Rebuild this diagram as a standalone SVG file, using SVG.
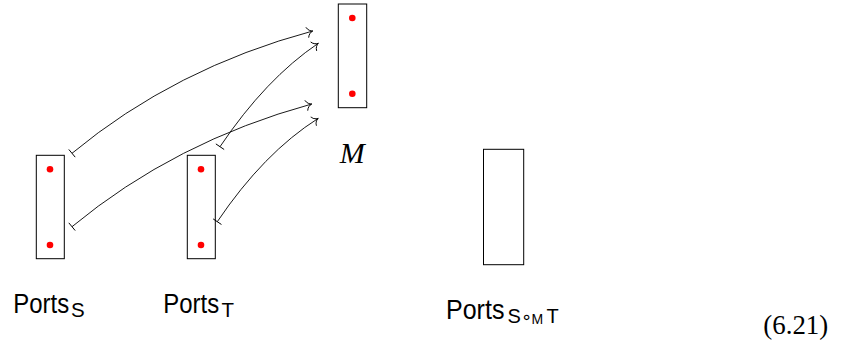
<svg xmlns="http://www.w3.org/2000/svg" width="843" height="345" viewBox="0 0 843 345">
<defs>
<style>
.box{fill:none;stroke:#000;stroke-width:1}
.dot{fill:#ff0000}
.lbl{font-family:"Liberation Sans","Lato",sans-serif;fill:#000}
.ser{font-family:"Liberation Serif","DejaVu Serif",serif;fill:#000}
.con{fill:none;stroke:#000;stroke-width:0.9;marker-start:url(#bar);marker-end:url(#to)}
</style>
<marker id="to" markerUnits="userSpaceOnUse" viewBox="-8 -6 10 12" markerWidth="10" markerHeight="12" refX="0" refY="0" orient="auto" overflow="visible">
<path d="M-5.5,-5 C-4.6,-2 -1.8,-0.4 0,0 C-1.8,0.4 -4.6,2 -5.5,5" fill="none" stroke="#000" stroke-width="0.9" stroke-linecap="round"/>
</marker>
<marker id="bar" markerUnits="userSpaceOnUse" viewBox="-2 -6 4 12" markerWidth="4" markerHeight="12" refX="0" refY="0" orient="auto" overflow="visible">
<path d="M0,-5 L0,5" fill="none" stroke="#000" stroke-width="0.9"/>
</marker>
</defs>
<g id="connectors">
<path class="con" d="M72,153.3 Q175,68 312.7,31"/>
<path class="con" d="M72,226.7 Q175,141.5 311.7,104"/>
<path class="con" d="M220,146.7 Q265.9,78.6 318.3,43.3"/>
<path class="con" d="M217.3,221.7 Q263.7,152.9 318.3,118.3"/>
</g>
<g id="PortsS">
<rect class="box" x="36.3" y="155.3" width="28" height="103.4"/>
<circle class="dot" cx="50" cy="169.3" r="3.3"/>
<circle class="dot" cx="50" cy="245" r="3.3"/>
<text class="lbl" transform="translate(13.3,313) scale(0.87,1)" font-size="27.5">Ports</text>
<text class="lbl" x="71" y="317" font-size="20.5">S</text>
</g>
<g id="PortsT">
<rect class="box" x="187.3" y="155.3" width="28" height="103.4"/>
<circle class="dot" cx="201" cy="169.3" r="3.3"/>
<circle class="dot" cx="201" cy="245" r="3.3"/>
<text class="lbl" transform="translate(163.3,313) scale(0.87,1)" font-size="27.5">Ports</text>
<text class="lbl" x="221.5" y="317" font-size="20.5">T</text>
</g>
<g id="M">
<rect class="box" x="338.3" y="4" width="28.4" height="103.7"/>
<circle class="dot" cx="352.3" cy="18" r="3.3"/>
<circle class="dot" cx="352.3" cy="93.7" r="3.3"/>
<text class="ser" x="352.3" y="162.5" font-size="30" font-style="italic" text-anchor="middle">M</text>
</g>
<g id="PortsSoMT">
<rect class="box" x="483.5" y="149.3" width="40.2" height="115.4"/>
<text class="lbl" transform="translate(446,318.5) scale(0.91,1)" font-size="27.5">Ports</text>
<text class="lbl" x="507.5" y="323" font-size="20">S</text>
<text x="521" y="323" font-size="18" font-family="DejaVu Sans,sans-serif">∘</text>
<text class="lbl" x="531.5" y="324" font-size="14">M</text>
<text class="lbl" x="546.5" y="323" font-size="20">T</text>
</g>
<text class="ser" transform="translate(763.3,334) scale(0.96,1)" font-size="28">(6.21)</text>
</svg>
